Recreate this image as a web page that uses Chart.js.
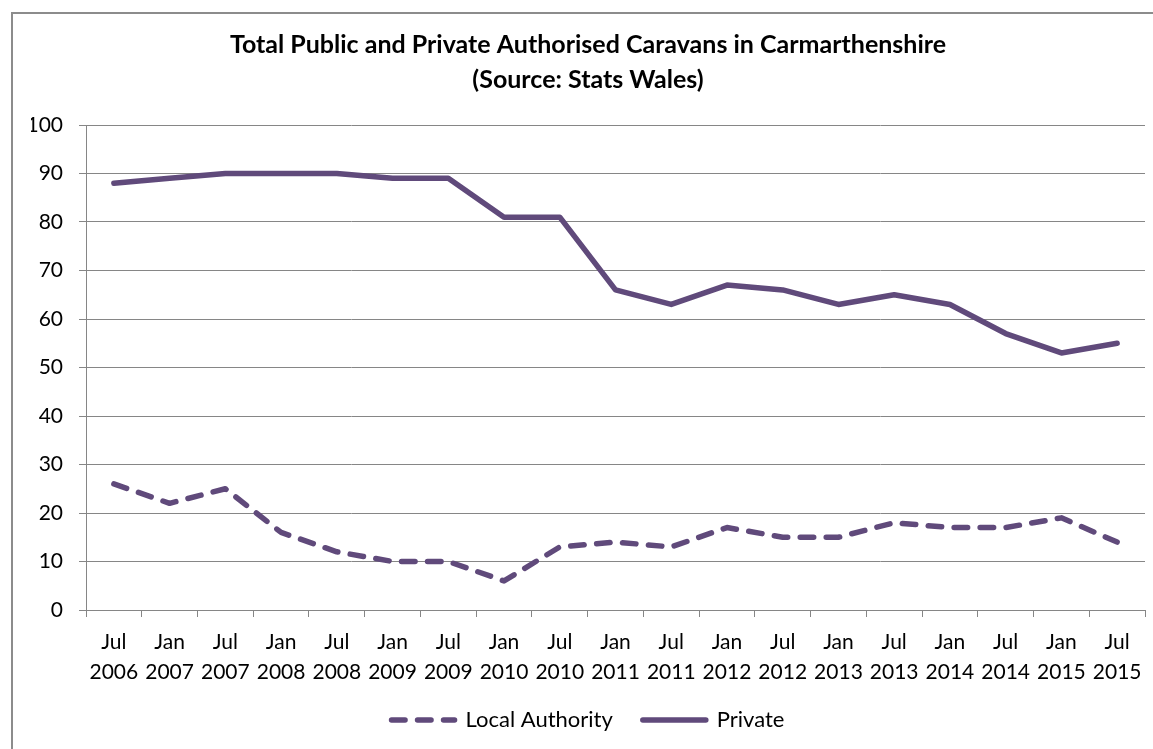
<!DOCTYPE html>
<html>
<head>
<meta charset="utf-8">
<script src="https://cdn.jsdelivr.net/npm/chart.js@4"></script>
<style>
  html, body { margin: 0; padding: 0; background: #fff; overflow: hidden; }
  #frame {
    position: absolute; left: 11px; top: 12px; width: 1160px; height: 760px;
    border-left: 2px solid #8c8c8c; border-top: 2px solid #8c8c8c;
  }
  #wrap { position: absolute; left: 0; top: 0; width: 1153px; height: 749px; }
</style>
</head>
<body>
<div id="frame"></div>
<div id="wrap"><canvas id="chart" width="1153" height="749"></canvas></div>
<script>
// periods (month, year)
const months = ['Jul', 'Jan', 'Jul', 'Jan', 'Jul', 'Jan', 'Jul', 'Jan', 'Jul', 'Jan',
  'Jul', 'Jan', 'Jul', 'Jan', 'Jul', 'Jan', 'Jul', 'Jan', 'Jul'];
const years = ['2006', '2007', '2007', '2008', '2008', '2009', '2009', '2010', '2010', '2011',
  '2011', '2012', '2012', '2013', '2013', '2014', '2014', '2015', '2015'];

const localAuthority = [26, 22, 25, 16, 12, 10, 10, 6, 13, 14, 13, 17, 15, 15, 18, 17, 17, 19, 14];
const privateSites = [88, 89, 90, 90, 90, 89, 89, 81, 81, 66, 63, 67, 66, 63, 65, 63, 57, 53, 55];

const yTicks = { min: 0, max: 100, step: 10 };

const purple = '#604A7B';
const gridGray = '#868686';
const font = 'Lato, "Open Sans", sans-serif';

const labels = months.map((m, i) => [m, years[i]]);

const ctx = document.getElementById('chart').getContext('2d');
new Chart(ctx, {
  type: 'line',
  data: {
    labels: labels,
    datasets: [
      {
        label: 'Local Authority',
        data: localAuthority,
        borderColor: purple,
        backgroundColor: purple,
        borderWidth: 5.5,
        borderDash: [13.5, 12.5],
        borderCapStyle: 'round',
        borderJoinStyle: 'round',
        pointRadius: 0,
        tension: 0,
        fill: false,
      },
      {
        label: 'Private',
        data: privateSites,
        borderColor: purple,
        backgroundColor: purple,
        borderWidth: 5.5,
        borderCapStyle: 'round',
        borderJoinStyle: 'round',
        pointRadius: 0,
        tension: 0,
        fill: false,
      },
    ],
  },
  options: {
    responsive: false,
    animation: false,
    layout: { padding: { left: 31, right: 8, top: 0, bottom: 8 } },
    scales: {
      x: {
        offset: true,
        grid: {
          drawOnChartArea: false,
          drawTicks: true,
          tickLength: 7,
          offset: true,
          color: gridGray,
        },
        border: { color: gridGray, width: 1 },
        ticks: {
          autoSkip: false,
          maxRotation: 0,
          minRotation: 0,
          padding: 10,
          color: '#000',
          font: { family: font, size: 21, lineHeight: 1.45 },
        },
        afterFit: (scale) => { scale.height = 69; },
      },
      y: {
        min: yTicks.min,
        max: yTicks.max,
        grid: { color: gridGray, tickLength: 7 },
        border: { color: gridGray, width: 1 },
        ticks: {
          stepSize: yTicks.step,
          padding: 16,
          color: '#000',
          font: { family: font, size: 21 },
        },
        afterFit: (scale) => { scale.width = 55; },
      },
    },
    plugins: {
      title: {
        display: true,
        text: ['Total Public and Private Authorised Caravans in Carmarthenshire', '(Source: Stats Wales)'],
        color: '#000',
        font: { family: font, size: 25, weight: 'bold', lineHeight: 1.4 },
        padding: { top: 27.5, bottom: 27.5 },
      },
      legend: {
        display: true,
        position: 'bottom',
        labels: {
          usePointStyle: true,
          pointStyle: 'line',
          pointStyleWidth: 63,
          padding: 30,
          color: '#000',
          font: { family: font, size: 22 },
          generateLabels: (chart) => {
            const items = Chart.defaults.plugins.legend.labels.generateLabels(chart);
            items.forEach((item) => {
              const ds = chart.data.datasets[item.datasetIndex];
              item.lineDash = ds.borderDash || [];
              item.lineCap = 'round';
              item.lineWidth = ds.borderWidth;
            });
            return items;
          },
        },
      },
      tooltip: { enabled: false },
    },
  },
});
</script>
</body>
</html>
